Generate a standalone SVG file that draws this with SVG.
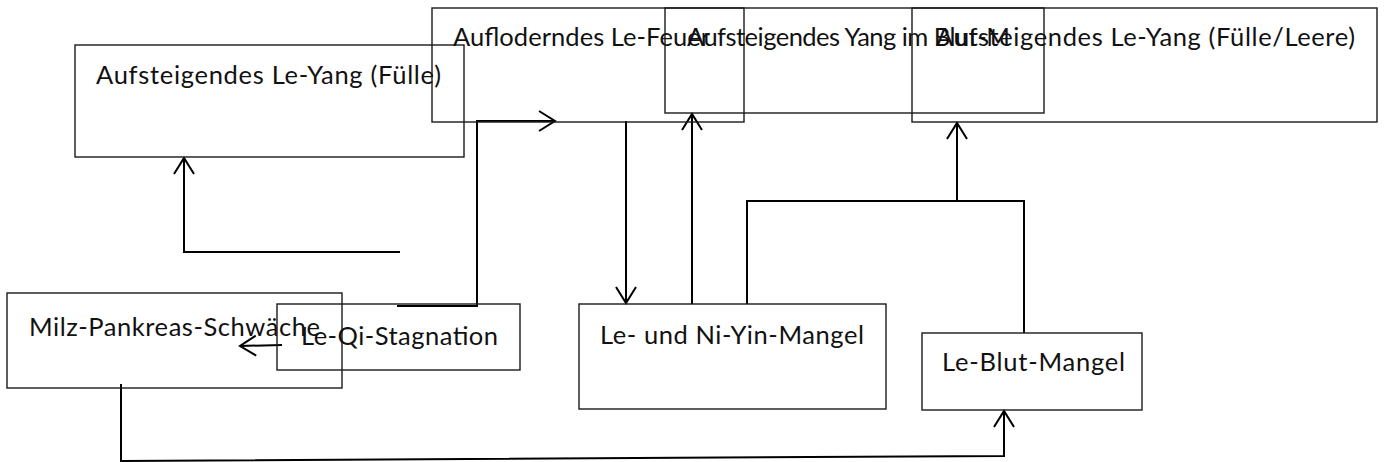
<svg xmlns="http://www.w3.org/2000/svg" width="1384" height="462" viewBox="0 0 1384 462">
<style>
.box{fill:none;stroke:#1a1a1a;stroke-width:1.4}
.lbl{font-family:Lato,"Open Sans","Liberation Sans",sans-serif;font-size:25.5px;fill:#111}
.edge{fill:none;stroke:#000;stroke-width:2;marker-end:url(#arr)}
.plain{fill:none;stroke:#000;stroke-width:2}
</style>
<defs>
<marker id="arr" markerUnits="userSpaceOnUse" markerWidth="24" markerHeight="24" viewBox="-20 -12 24 24" refX="0" refY="0" orient="auto" overflow="visible">
<path d="M -16 -10 L 0 0 L -16 10" fill="none" stroke="#000" stroke-width="2"/>
</marker>
</defs>
<rect width="1384" height="462" fill="#fff"/>
<g id="connectors">
<path class="edge" d="M 400 252 H 184 V 158"/>
<path class="edge" d="M 397 306 H 477 V 121 H 555"/>
<path class="edge" d="M 626 121 V 303"/>
<path class="edge" d="M 692 304 V 114"/>
<path class="plain" d="M 747 304 V 201 H 1024 V 333"/>
<path class="edge" d="M 957 201 V 123"/>
<path class="edge" d="M 121 384 V 461 L 1004 456 V 411"/>
<path class="edge" d="M 282 345 L 240 346"/>
</g>
<g id="n-yang-fuelle">
<rect class="box" x="75" y="45" width="389" height="112"/>
<text class="lbl" x="96" y="84" textLength="345">Aufsteigendes Le-Yang (Fülle)</text>
</g>
<g id="n-le-feuer">
<rect class="box" x="432" y="8" width="312" height="114"/>
<text class="lbl" x="453" y="46" textLength="257">Aufloderndes Le-Feuer</text>
</g>
<g id="n-yang-magen">
<rect class="box" x="665" y="8" width="379" height="105"/>
<text class="lbl" x="687" y="46" textLength="323">Aufsteigendes Yang im Blut-M</text>
</g>
<g id="n-yang-fuelle-leere">
<rect class="box" x="912" y="8" width="465" height="114"/>
<text class="lbl" x="936" y="46" textLength="419">Aufsteigendes Le-Yang (Fülle/Leere)</text>
</g>
<g id="n-milz">
<rect class="box" x="7" y="293" width="335" height="95"/>
<text class="lbl" x="29" y="336" textLength="291">Milz-Pankreas-Schwäche</text>
</g>
<g id="n-qi">
<rect class="box" x="277" y="304" width="243" height="66"/>
<text class="lbl" x="301" y="345" textLength="197">Le-Qi-Stagnation</text>
</g>
<g id="n-yin">
<rect class="box" x="579" y="304" width="307" height="105"/>
<text class="lbl" x="600" y="344" textLength="264">Le- und Ni-Yin-Mangel</text>
</g>
<g id="n-blut">
<rect class="box" x="922" y="333" width="220" height="77"/>
<text class="lbl" x="942" y="371" textLength="183">Le-Blut-Mangel</text>
</g>
</svg>
